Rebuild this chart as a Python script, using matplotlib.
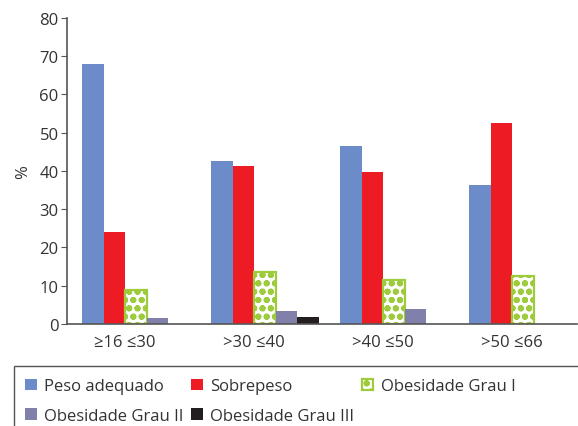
import numpy as np
import matplotlib.pyplot as plt
from matplotlib.patches import Rectangle

plt.rcParams["font.family"] = ["Open Sans", "DejaVu Sans"]
plt.rcParams["hatch.linewidth"] = 2.0

# Percentages per age band and BMI class
age_groups = ["≥16 ≤30", ">30 ≤40", ">40 ≤50", ">50 ≤66"]
peso_adequado = [68.0, 42.7, 46.5, 36.4]
sobrepeso = [24.0, 41.2, 39.6, 52.5]
obesidade_1 = [9.0, 13.6, 11.6, 12.6]
obesidade_2 = [1.5, 3.4, 4.0, 0.0]
obesidade_3 = [0.0, 1.8, 0.0, 0.0]

series = [
    ("Peso adequado", peso_adequado, dict(color="#6b8cc9")),
    ("Sobrepeso", sobrepeso, dict(color="#ed1c24")),
    ("Obesidade Grau I", obesidade_1,
     dict(facecolor="white", edgecolor="#9dcb3b", hatch="oo", linewidth=1.6)),
    ("Obesidade Grau II", obesidade_2, dict(color="#8080aa")),
    ("Obesidade Grau III", obesidade_3, dict(color="#231f20")),
]

fig = plt.figure(figsize=(5.78, 4.27), dpi=100)
ax = fig.add_axes([0.116, 0.239, 0.882, 0.7166])

x = np.arange(len(age_groups))
w = 0.1675
handles = {}
for i, (name, vals, style) in enumerate(series):
    bars = ax.bar(x + (i - 2) * w, vals, width=w, align="edge", label=name, **style)
    handles[name] = bars

ax.set_xlim(-0.45, 3.5)
ax.set_ylim(0, 80)
ax.set_yticks(range(0, 81, 10))
ax.set_xticks(x)
ax.set_xticklabels(age_groups)
ax.set_ylabel("%", fontsize=12, color="#333333", labelpad=6)

for side in ["top", "right"]:
    ax.spines[side].set_visible(False)
for side in ["left", "bottom"]:
    ax.spines[side].set_color("#555555")
    ax.spines[side].set_linewidth(1.2)
ax.tick_params(axis="y", length=4, color="#555555", labelsize=12, labelcolor="#333333", pad=2)
ax.tick_params(axis="x", length=0, labelsize=12, labelcolor="#333333", pad=7)

# Legend with its box running off the lower right edge
order = ["Peso adequado", "Obesidade Grau II", "Sobrepeso",
         "Obesidade Grau III", "Obesidade Grau I"]
fig.legend([handles[n] for n in order], order, loc="upper left",
           bbox_to_anchor=(0.0433, 0.112), ncol=3, frameon=False,
           fontsize=12, handlelength=0.7, handleheight=0.7, handletextpad=0.45,
           columnspacing=0.45, labelspacing=0.82, borderaxespad=0, borderpad=0,
           labelcolor="#333333")
fig.patches.append(Rectangle((14 / 578, -0.05), 1.0, (427 - 367) / 427 + 0.05,
                             transform=fig.transFigure, fill=False,
                             edgecolor="#555555", linewidth=1.0))

fig.savefig("out.png", dpi=100)
